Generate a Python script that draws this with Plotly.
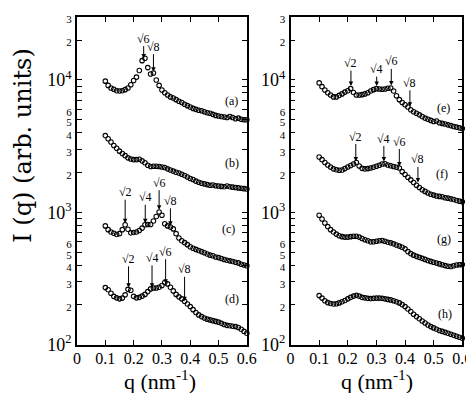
import math
import plotly.graph_objects as go

W, H = 474, 393

# q grid (nm^-1)
Q = [0.10, 0.11, 0.12, 0.13, 0.14, 0.15, 0.16, 0.17, 0.18, 0.19,
     0.20, 0.21, 0.22, 0.23, 0.24, 0.25, 0.26, 0.27, 0.28, 0.29,
     0.30, 0.31, 0.32, 0.33, 0.34, 0.35, 0.36, 0.37, 0.38, 0.39,
     0.40, 0.41, 0.42, 0.43, 0.44, 0.45, 0.46, 0.47, 0.48, 0.49,
     0.50, 0.51, 0.52, 0.53, 0.54, 0.55, 0.56, 0.57, 0.58, 0.59, 0.60]

# left panel
I_a = [9800, 9100, 8700, 8500, 8300, 8250, 8300, 8450, 8700, 9200,
       9900, 10500, 11800, 14000, 14600, 12400, 11100, 11300, 10000, 9100,
       8400, 8000, 7700, 7450, 7300, 7100, 6900, 6750, 6550, 6400,
       6250, 6100, 6000, 5900, 5850, 5750, 5650, 5600, 5500, 5400,
       5350, 5300, 5250, 5200, 5300, 5200, 5100, 5150, 5050, 5000, 5000]
I_b = [3800, 3600, 3400, 3200, 3050, 2900, 2780, 2680, 2580, 2530,
       2500, 2500, 2520, 2450, 2370, 2270, 2220, 2230, 2230, 2220,
       2200, 2180, 2130, 2090, 2050, 2010, 1980, 1940, 1900, 1850,
       1800, 1770, 1720, 1690, 1660, 1640, 1620, 1600, 1610, 1590,
       1580, 1570, 1560, 1580, 1560, 1550, 1540, 1530, 1520, 1510, 1500]
I_c = [790, 740, 710, 695, 680, 690, 740, 805, 745, 700,
       705, 710, 730, 760, 805, 810, 810, 860, 930, 1005,
       950, 820, 790, 775, 750, 690, 640, 610, 590, 570,
       550, 535, 525, 515, 505, 495, 485, 475, 470, 460,
       455, 448, 440, 435, 430, 425, 420, 415, 405, 400, 395]
I_d = [270, 260, 245, 232, 226, 222, 225, 238, 262, 258,
       232, 226, 228, 233, 240, 252, 264, 268, 268, 272,
       280, 295, 288, 272, 255, 240, 230, 222, 213, 203,
       194, 184, 175, 168, 163, 159, 156, 154, 152, 150,
       148, 145, 142, 140, 139, 138, 137, 135, 131, 126, 122]
# right panel
I_e = [9500, 8900, 8400, 8000, 7700, 7450, 7450, 7650, 7850, 8100,
       8300, 8600, 8050, 7700, 7700, 7750, 7850, 8000, 8250, 8450,
       8600, 8550, 8500, 8550, 8650, 8700, 8250, 7600, 7100, 6750,
       6500, 6250, 5950, 5750, 5600, 5450, 5300, 5150, 5050, 4950,
       4850, 4900, 4750, 4700, 4650, 4580, 4520, 4450, 4400, 4350, 4300]
I_f = [2620, 2500, 2380, 2280, 2200, 2130, 2100, 2080, 2090, 2140,
       2200, 2260, 2320, 2380, 2240, 2150, 2130, 2140, 2160, 2190,
       2230, 2270, 2320, 2330, 2280, 2250, 2220, 2190, 2160, 2030,
       1930, 1840, 1760, 1680, 1600, 1540, 1480, 1440, 1400, 1370,
       1350, 1330, 1320, 1310, 1290, 1280, 1265, 1250, 1230, 1215, 1200]
I_g = [950, 890, 830, 780, 740, 710, 685, 665, 655, 650,
       650, 655, 660, 660, 650, 635, 620, 610, 600, 600,
       605, 610, 612, 605, 595, 588, 578, 566, 556, 545,
       530, 505, 488, 475, 465, 457, 449, 441, 433, 426,
       420, 414, 408, 402, 396, 392, 390, 395, 400, 402, 403]
I_h = [235, 225, 215, 208, 205, 203, 204, 207, 211, 216,
       222, 228, 233, 236, 233, 228, 226, 224, 223, 224,
       225, 225, 224, 222, 220, 218, 215, 211, 207, 201,
       194, 186, 178, 170, 163, 157, 151, 146, 141, 137,
       134, 131, 128, 126, 124, 122, 120, 118, 116, 114, 112]

# peak markers: (label, q, intensity at arrow tip)
PEAKS_LEFT = [("√6", 0.2355, 14500), ("√8", 0.270, 11560),
              ("√2", 0.170, 828), ("√4", 0.241, 828), ("√6", 0.290, 1048), ("√8", 0.330, 791),
              ("√2", 0.182, 269), ("√4", 0.265, 269), ("√6", 0.313, 289), ("√8", 0.380, 213)]
PEAKS_RIGHT = [("√2", 0.211, 8990), ("√4", 0.301, 8990), ("√6", 0.352, 9100), ("√8", 0.417, 6270),
               ("√2", 0.228, 2420), ("√4", 0.326, 2420), ("√6", 0.380, 2220), ("√8", 0.445, 1682)]
ARROW_LEN_LEFT = [-20, -25, -31, -26, -27, -25, -29, -30, -32, -32]
ARROW_LEN_RIGHT = [-23, -17, -24, -24, -25, -23, -25, -23]

# curve labels: (text, q, intensity)
LABELS_LEFT = [("(a)", 0.547, 6890), ("(b)", 0.547, 2380), ("(c)", 0.536, 748), ("(d)", 0.547, 222)]
LABELS_RIGHT = [("(e)", 0.536, 6170), ("(f)", 0.530, 1940), ("(g)", 0.536, 632), ("(h)", 0.539, 172)]

X_TICKS = [0, 0.1, 0.2, 0.3, 0.4, 0.5, 0.6]
X_TICKTEXT = ["0", "0.1", "0.2", "0.3", "0.4", "0.5", "0.6"]
Y_TICKS = [100, 200, 300, 400, 500, 600,
           1000, 2000, 3000, 4000, 5000, 6000,
           10000, 20000, 30000]
Y_MINOR = [700, 800, 900, 7000, 8000, 9000]
SMALL = "<span style='font-size:11px'>%s</span>"
Y_TICKTEXT = ["10<sup>2</sup>", SMALL % "2", SMALL % "3", SMALL % "4", SMALL % "5", SMALL % "6",
              "10<sup>3</sup>", SMALL % "2", SMALL % "3", SMALL % "4", SMALL % "5", SMALL % "6",
              "10<sup>4</sup>", SMALL % "2", SMALL % "3"]

SERIF = "Times New Roman"

fig = go.Figure()
marker = dict(symbol="circle-open", size=4.5, color="black", line=dict(width=1.1, color="black"))
for ys in (I_a, I_b, I_c, I_d):
    fig.add_trace(go.Scatter(x=Q, y=ys, mode="markers", marker=marker,
                             xaxis="x", yaxis="y", showlegend=False, cliponaxis=False))
for ys in (I_e, I_f, I_g, I_h):
    fig.add_trace(go.Scatter(x=Q, y=ys, mode="markers", marker=marker,
                             xaxis="x2", yaxis="y2", showlegend=False, cliponaxis=False))

ann = []
for (peaks, lens, xr, yr) in ((PEAKS_LEFT, ARROW_LEN_LEFT, "x", "y"), (PEAKS_RIGHT, ARROW_LEN_RIGHT, "x2", "y2")):
    for (t, q, v), ay in zip(peaks, lens):
        ann.append(dict(x=q, y=math.log10(v), xref=xr, yref=yr, text=t, showarrow=True,
                        ax=0, ay=ay, arrowhead=2, arrowsize=0.9, arrowwidth=1, arrowcolor="black",
                        font=dict(family=SERIF, size=12, color="black"), borderpad=0))
for (labels, xr, yr) in ((LABELS_LEFT, "x", "y"), (LABELS_RIGHT, "x2", "y2")):
    for t, q, v in labels:
        ann.append(dict(x=q, y=math.log10(v), xref=xr, yref=yr, text=t, showarrow=False,
                        font=dict(family=SERIF, size=12, color="black")))

# axis titles
for cx in (153, 376):
    ann.append(dict(x=cx / W, y=1 - 382 / H, xref="paper", yref="paper", text="q (nm<sup>-1</sup>)",
                    showarrow=False, xanchor="center", yanchor="middle",
                    font=dict(family=SERIF, size=22, color="black")))
ann.append(dict(x=11 / W, y=1 - 138 / H, xref="paper", yref="paper", text="I (q) (arb. units)",
                showarrow=False, textangle=-90, xanchor="center", yanchor="middle",
                font=dict(family="DejaVu Serif", size=24, color="black")))

def xax(dom):
    return dict(domain=dom, range=[0, 0.6], tickvals=X_TICKS, ticktext=X_TICKTEXT,
                ticks="inside", ticklen=5, tickwidth=1, tickcolor="black",
                showline=True, linecolor="black", linewidth=1.5, mirror="ticks",
                showgrid=False, zeroline=False, ticklabelstandoff=-2,
                tickfont=dict(family=SERIF, size=16, color="black"))

def yax(dom, anchor):
    return dict(domain=dom, type="log", range=[2, math.log10(30000)], tickvals=Y_TICKS, ticktext=Y_TICKTEXT,
                ticks="inside", ticklen=5, tickwidth=1, tickcolor="black",
                minor=dict(tickvals=Y_MINOR, ticks="inside", ticklen=5, tickwidth=1, tickcolor="black",
                           showgrid=False),
                showline=True, linecolor="black", linewidth=1.5, mirror="ticks",
                showgrid=False, zeroline=False, anchor=anchor, ticklabelstandoff=0,
                tickfont=dict(family=SERIF, size=18, color="black"))

ydom = [1 - 345 / H, 1 - 5 / H]
fig.update_layout(
    width=W, height=H, margin=dict(l=0, r=0, t=0, b=0),
    paper_bgcolor="white", plot_bgcolor="white",
    font=dict(family=SERIF, color="black"),
    xaxis=dict(xax([67 / W, 242 / W]), anchor="y"),
    yaxis=yax(ydom, "x"),
    xaxis2=dict(xax([287 / W, 464 / W]), anchor="y2"),
    yaxis2=yax(ydom, "x2"),
    annotations=ann,
)

fig.write_html("out.html")
